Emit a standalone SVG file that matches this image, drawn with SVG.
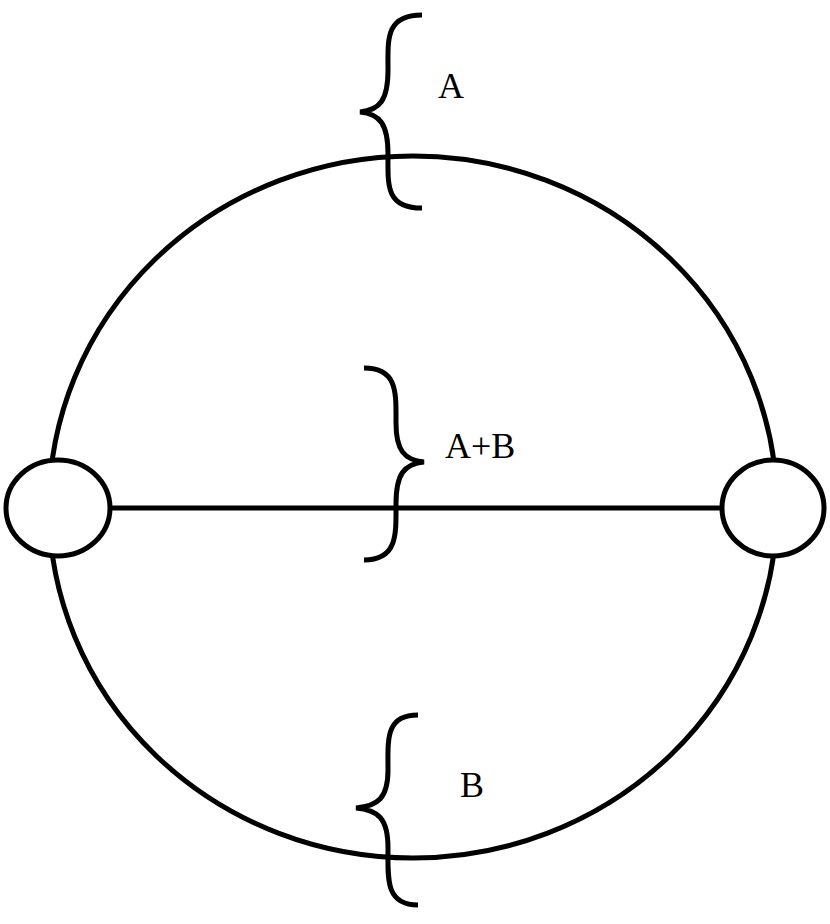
<svg xmlns="http://www.w3.org/2000/svg" width="830" height="924" viewBox="0 0 830 924">
<style>.s{fill:none;stroke:#000;stroke-width:5}.n{fill:#fff;stroke:#000;stroke-width:5}text{font-family:"Liberation Serif",serif;font-size:36px;fill:#000}</style>
<rect width="830" height="924" fill="#fff"/>
<g id="connectors">
<ellipse class="s" cx="413" cy="507" rx="364" ry="351"/>
<line class="s" x1="110" y1="508" x2="722" y2="508"/>
<path class="s" d="M422,15 C385,15 388,40 388,70 C388,100 380,110 360,112 C380,114 388,124 388,154 C388,184 385,208 422,208"/>
<path class="s" d="M364,368 C398,368 396,393 396,423 C396,450 404,460 424,462 C404,464 396,474 396,504 C396,534 398,560 364,560"/>
<path class="s" d="M418,715 C385,715 388,740 388,770 C388,798 378,806 356,808 C378,810 388,818 388,848 C388,878 385,905 418,905"/>
</g>
<g id="left"><ellipse class="n" cx="58" cy="508" rx="52" ry="48"/></g>
<g id="right"><ellipse class="n" cx="773" cy="508" rx="51" ry="48"/></g>
<text x="438" y="98">A</text>
<text x="445" y="458">A+B</text>
<text x="460" y="797">B</text>
</svg>
